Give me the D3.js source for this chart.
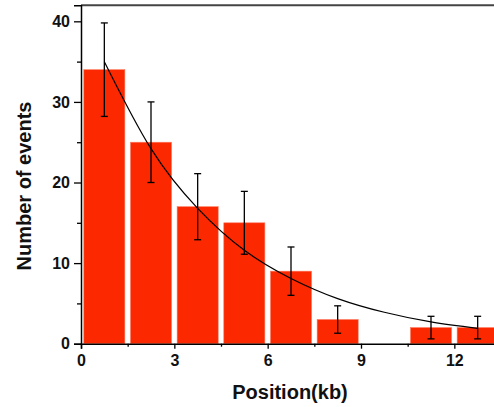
<!DOCTYPE html>
<html>
<head>
<meta charset="utf-8">
<script src="https://cdn.jsdelivr.net/npm/d3@7"></script>
<style>
  body { margin: 0; background: #fff; }
  svg { display: block; font-family: "Liberation Sans", Arial, sans-serif; }
</style>
</head>
<body>
<script>
// histogram bins (kb) and counts
var binStart = [0, 1.5, 3, 4.5, 6, 7.5, 9, 10.5, 12];
var counts = [34, 25, 17, 15, 9, 3, 0, 2, 2];
var errors = [5.8, 5.0, 4.1, 3.9, 3.0, 1.7, 0, 1.4, 1.4];
// fitted decay curve, read at bin centres
var fitX = [0.75, 2.25, 3.75, 5.25, 6.75, 8.25, 9.75, 11.25, 12.75];
var fitY = [35, 24.2, 16.8, 11.6, 8.1, 5.6, 3.9, 2.7, 1.9];
var xTicks = [0, 3, 6, 9, 12];
var yTicks = [0, 10, 20, 30, 40];

var binW = 1.5;

var svg = d3.select('body').append('svg')
  .attr('width', 494)
  .attr('height', 407);

var x = d3.scaleLinear().domain([0, 13.5]).range([81, 501]);
var y = d3.scaleLinear().domain([0, 42]).range([343.7, 5.2]);

var data = binStart.map(function(b, i) {
  return { x0: b, c: counts[i], e: errors[i] };
});

// bars
svg.append('g').selectAll('rect')
  .data(data.filter(function(d) { return d.c > 0; }))
  .enter().append('rect')
    .attr('x', function(d) { return x(d.x0 + 0.09); })
    .attr('width', function(d) { return x(d.x0 + binW - 0.09) - x(d.x0 + 0.09); })
    .attr('y', function(d) { return y(d.c); })
    .attr('height', function(d) { return y(0) - y(d.c); })
    .attr('fill', '#fb2800')
    .attr('stroke', '#ff7a60')
    .attr('stroke-width', 0.6);

// error bars
var eb = svg.append('g').attr('stroke', '#000').attr('stroke-width', 1.3);
data.filter(function(d) { return d.e > 0; }).forEach(function(d) {
  var cx = x(d.x0 + binW / 2);
  eb.append('line').attr('x1', cx).attr('x2', cx)
    .attr('y1', y(d.c + d.e)).attr('y2', y(d.c - d.e));
  [d.c + d.e, d.c - d.e].forEach(function(v) {
    eb.append('line').attr('x1', cx - 3.5).attr('x2', cx + 3.5)
      .attr('y1', y(v)).attr('y2', y(v));
  });
});

// fit curve
var line = d3.line()
  .x(function(d) { return x(d[0]); })
  .y(function(d) { return y(d[1]); })
  .curve(d3.curveNatural);
svg.append('path')
  .datum(d3.zip(fitX, fitY))
  .attr('d', line)
  .attr('fill', 'none')
  .attr('stroke', '#000')
  .attr('stroke-width', 1.2);

// frame
svg.append('line').attr('x1', 81).attr('x2', 501).attr('y1', 5.2).attr('y2', 5.2)
  .attr('stroke', '#444').attr('stroke-width', 2);
svg.append('line').attr('x1', 501).attr('x2', 501).attr('y1', 5.2).attr('y2', 343.7)
  .attr('stroke', '#000').attr('stroke-width', 1.5);

// axes
var xAxis = d3.axisBottom(x).tickValues(xTicks).tickSize(5).tickPadding(6)
  .tickFormat(d3.format('d'));
svg.append('g').attr('transform', 'translate(0,' + y(0) + ')').call(xAxis);
svg.append('g').attr('transform', 'translate(0,' + y(0) + ')')
  .call(d3.axisBottom(x).tickValues([1.5, 4.5, 7.5, 10.5]).tickSize(3).tickFormat(''))
  .select('.domain').remove();

var yAxis = d3.axisLeft(y).tickValues(yTicks).tickSize(7).tickPadding(4);
svg.append('g').attr('transform', 'translate(' + x(0) + ',0)').call(yAxis);
svg.append('g').attr('transform', 'translate(' + x(0) + ',0)')
  .call(d3.axisLeft(y).tickValues([5, 15, 25, 35]).tickSize(4).tickFormat(''))
  .select('.domain').remove();

svg.selectAll('.domain').attr('stroke', '#000').attr('stroke-width', 1.5);
svg.selectAll('.tick line').attr('stroke', '#000').attr('stroke-width', 1.3);
svg.selectAll('.tick text')
  .style('font-size', '16px')
  .style('font-weight', 'bold')
  .style('font-family', '"Liberation Sans", Arial, sans-serif')
  .attr('fill', '#111');

// axis titles
svg.append('text')
  .attr('x', 290).attr('y', 399)
  .attr('text-anchor', 'middle')
  .style('font-size', '20px').style('font-weight', 'bold')
  .attr('fill', '#111')
  .text('Position(kb)');

svg.append('text')
  .attr('transform', 'translate(31,186) rotate(-90)')
  .attr('text-anchor', 'middle')
  .style('font-size', '20px').style('font-weight', 'bold')
  .attr('fill', '#111')
  .text('Number of events');
</script>
</body>
</html>
